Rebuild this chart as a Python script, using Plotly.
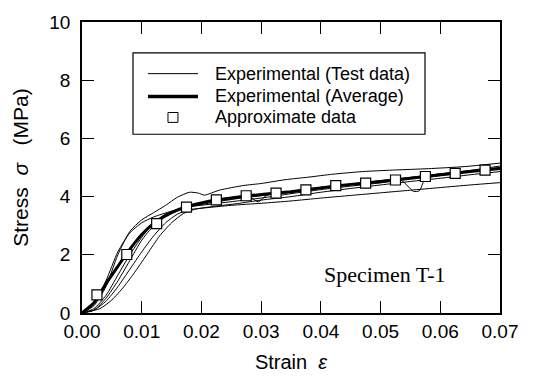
import plotly.graph_objects as go

# ---- data ----
test1_x = [0, 0.002, 0.004, 0.006, 0.008, 0.010, 0.012, 0.014, 0.016, 0.018, 0.0195, 0.0205, 0.023, 0.027, 0.030, 0.034, 0.038, 0.042, 0.047, 0.052, 0.058, 0.064, 0.070]
test1_y = [0, 0.25, 0.9, 2.0, 2.8, 3.2, 3.45, 3.7, 3.98, 4.15, 4.12, 4.05, 4.22, 4.38, 4.45, 4.58, 4.67, 4.77, 4.86, 4.91, 4.96, 5.03, 5.15]

test2_x = [0, 0.002, 0.004, 0.006, 0.008, 0.010, 0.012, 0.015, 0.018, 0.022, 0.026, 0.030, 0.035, 0.040, 0.045, 0.050, 0.055, 0.060, 0.065, 0.070]
test2_y = [0, 0.3, 1.1, 2.1, 2.75, 3.1, 3.3, 3.5, 3.65, 3.8, 3.93, 4.03, 4.18, 4.32, 4.43, 4.54, 4.65, 4.78, 4.9, 5.05]

test3_x = [0, 0.002, 0.004, 0.006, 0.008, 0.010, 0.012, 0.014, 0.016, 0.018, 0.020, 0.025, 0.030, 0.035, 0.040, 0.045, 0.050, 0.055, 0.060, 0.065, 0.070]
test3_y = [0, 0.1, 0.4, 0.9, 1.5, 2.1, 2.65, 3.1, 3.4, 3.55, 3.6, 3.7, 3.77, 3.85, 3.95, 4.04, 4.13, 4.22, 4.31, 4.4, 4.48]

test4_x = [0, 0.002, 0.004, 0.006, 0.008, 0.010, 0.012, 0.014, 0.016, 0.018, 0.022, 0.026, 0.030, 0.035, 0.040, 0.045, 0.050, 0.0535, 0.0555, 0.0565, 0.0575, 0.060, 0.065, 0.070]
test4_y = [0, 0.15, 0.6, 1.3, 2.0, 2.6, 3.1, 3.4, 3.55, 3.65, 3.75, 3.85, 3.95, 4.1, 4.24, 4.36, 4.47, 4.55, 4.18, 4.2, 4.62, 4.72, 4.85, 4.98]

test5_x = [0, 0.002, 0.004, 0.006, 0.008, 0.010, 0.012, 0.014, 0.016, 0.018, 0.022, 0.026, 0.028, 0.0295, 0.031, 0.035, 0.040, 0.045, 0.050, 0.055, 0.060, 0.065, 0.070]
test5_y = [0, 0.1, 0.5, 1.1, 1.8, 2.5, 3.0, 3.35, 3.55, 3.7, 3.85, 3.95, 4.0, 3.82, 4.05, 4.15, 4.3, 4.42, 4.55, 4.66, 4.78, 4.88, 5.0]

test6_x = [0, 0.003, 0.005, 0.007, 0.009, 0.011, 0.013, 0.015, 0.017, 0.019, 0.022, 0.026, 0.030, 0.035, 0.040, 0.045, 0.050, 0.055, 0.060, 0.065, 0.070]
test6_y = [0, 0.15, 0.45, 0.9, 1.45, 2.05, 2.65, 3.1, 3.42, 3.57, 3.66, 3.76, 3.88, 4.0, 4.15, 4.28, 4.4, 4.52, 4.63, 4.75, 4.86]

avg_x = [0, 0.002, 0.004, 0.006, 0.0075, 0.010, 0.0125, 0.015, 0.0175, 0.020, 0.0225, 0.025, 0.0275, 0.030, 0.035, 0.040, 0.045, 0.050, 0.055, 0.060, 0.065, 0.070]
avg_y = [0, 0.35, 1.0, 1.6, 2.05, 2.7, 3.15, 3.45, 3.65, 3.78, 3.88, 3.95, 4.02, 4.07, 4.17, 4.3, 4.42, 4.52, 4.63, 4.75, 4.86, 4.97]

approx_x = [0.0025, 0.0075, 0.0125, 0.0175, 0.0225, 0.0275, 0.0325, 0.0375, 0.0425, 0.0475, 0.0525, 0.0575, 0.0625, 0.0675]
approx_y = [0.62, 2.01, 3.07, 3.64, 3.89, 4.03, 4.12, 4.23, 4.38, 4.46, 4.57, 4.69, 4.80, 4.91]

x_ticks = [0, 0.01, 0.02, 0.03, 0.04, 0.05, 0.06, 0.07]
y_ticks = [0, 2, 4, 6, 8, 10]

legend_labels = ["Experimental (Test data)", "Experimental (Average)", "Approximate data"]
specimen_label = "Specimen T-1"

fig = go.Figure()
for xs, ys in [(test1_x, test1_y), (test2_x, test2_y), (test3_x, test3_y),
               (test4_x, test4_y), (test5_x, test5_y), (test6_x, test6_y)]:
    fig.add_trace(go.Scatter(x=xs, y=ys, mode="lines",
                             line=dict(color="black", width=1, shape="spline", smoothing=0.6),
                             showlegend=False, hoverinfo="skip"))
fig.add_trace(go.Scatter(x=avg_x, y=avg_y, mode="lines",
                         line=dict(color="black", width=3, shape="spline", smoothing=0.6),
                         showlegend=False))
fig.add_trace(go.Scatter(x=approx_x, y=approx_y, mode="markers",
                         marker=dict(symbol="square", size=10, color="white",
                                     line=dict(color="black", width=1.2)),
                         showlegend=False))

font_family = "Liberation Sans, Arial, sans-serif"

# manual legend box (paper coords)
shapes = [
    dict(type="rect", xref="paper", yref="paper", x0=0.122, x1=0.8206, y0=0.6143, y1=0.894,
         line=dict(color="black", width=1.2), fillcolor="white", layer="above"),
    dict(type="line", xref="paper", yref="paper", x0=0.158, x1=0.2775, y0=0.8225, y1=0.8225,
         line=dict(color="black", width=1), layer="above"),
    dict(type="line", xref="paper", yref="paper", x0=0.158, x1=0.2775, y0=0.744, y1=0.744,
         line=dict(color="black", width=3.5), layer="above"),
    dict(type="rect", xref="paper", yref="paper", x0=0.2057, x1=0.2296, y0=0.655, y1=0.689,
         line=dict(color="black", width=1), fillcolor="white", layer="above"),
]
annotations = []
for lab, yy in zip(legend_labels, [0.8225, 0.744, 0.672]):
    annotations.append(dict(text=lab, xref="paper", yref="paper", x=0.3134, y=yy,
                            xanchor="left", yanchor="middle", showarrow=False,
                            font=dict(family=font_family, size=18, color="black")))
annotations.append(dict(text=specimen_label, xref="paper", yref="paper", x=0.5742, y=0.133,
                        xanchor="left", yanchor="middle", showarrow=False,
                        font=dict(family="Liberation Serif, Times New Roman, serif", size=22, color="black")))

fig.update_layout(
    width=534, height=382,
    margin=dict(l=82, r=34, t=21, b=68),
    plot_bgcolor="white", paper_bgcolor="white",
    font=dict(family=font_family, size=19, color="black"),
    shapes=shapes, annotations=annotations,
    showlegend=False,
)
fig.update_xaxes(range=[0, 0.07], tickvals=x_ticks, tickformat=".2f",
                 ticks="inside", ticklen=12, tickwidth=1.2, tickcolor="black",
                 showline=True, linecolor="black", linewidth=1.5, mirror="ticks",
                 showgrid=False, zeroline=False,
                 title=dict(text="Strain  <i>ε</i>", font=dict(size=20), standoff=14))
fig.update_yaxes(range=[0, 10], tickvals=y_ticks,
                 ticks="inside", ticklen=12, tickwidth=1.2, tickcolor="black",
                 showline=True, linecolor="black", linewidth=1.5, mirror="ticks",
                 showgrid=False, zeroline=False, ticklabelstandoff=6,
                 title=dict(text="Stress &nbsp;<i>σ</i>&nbsp;&nbsp; (MPa)", font=dict(size=21), standoff=15))

fig.write_html("out.html")
